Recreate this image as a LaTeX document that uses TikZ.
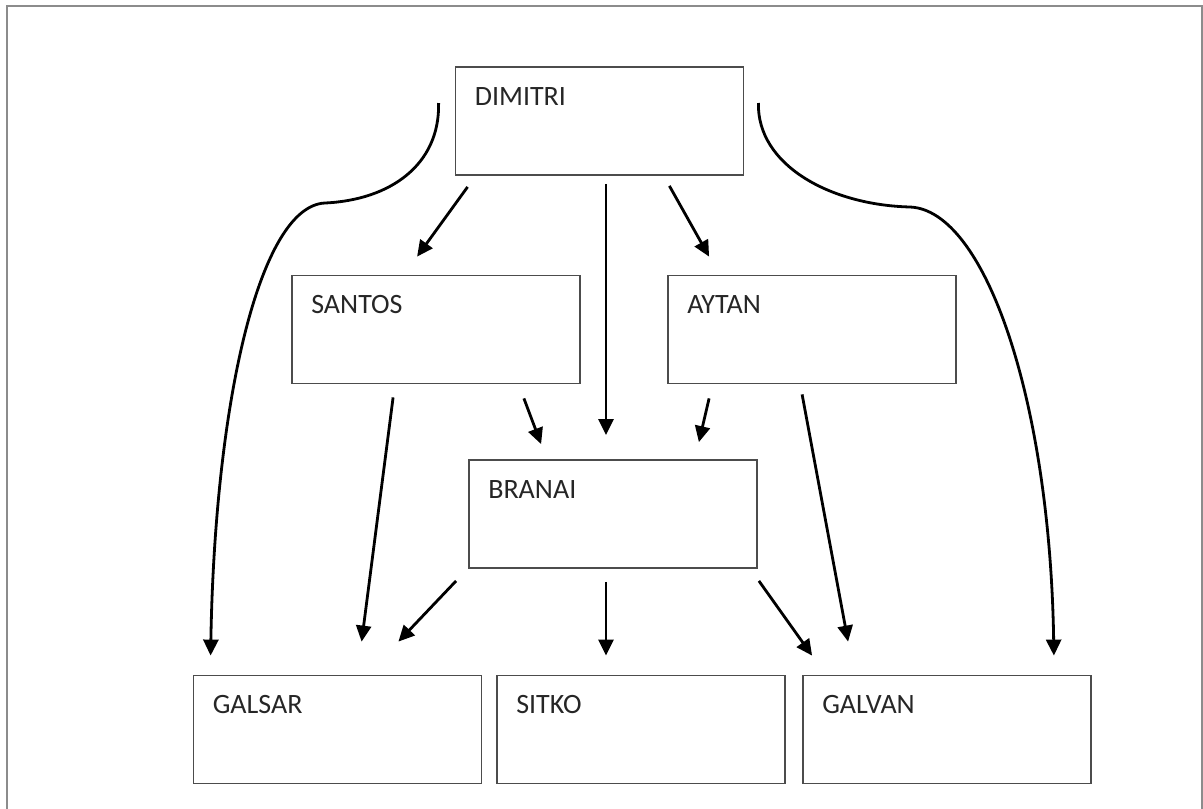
\documentclass[tikz,border=0pt]{standalone}
\usepackage{fontspec}
\setmainfont{Carlito}
\usetikzlibrary{arrows.meta,calc}
\begin{document}
\begin{tikzpicture}[x=1pt,y=-1pt,
    box/.style={draw=black!70,line width=1.8pt,minimum width=288pt,minimum height=108pt,inner sep=0pt},
    boxtext/.style={anchor=west,inner sep=0pt,text=black!85,font=\fontsize{28}{28}\selectfont},
    arr/.style={-{Triangle[length=16pt,width=15pt]},line width=2.8pt},
    frame/.style={draw=black!45,line width=2pt}]
      \useasboundingbox (0,0) rectangle (1203,809);
      \draw[frame] (7,812) |- (1202,6) -- (1202,812);
      \node[box] (dimitri) at (599.5,121) {};
      \node[box] (santos) at (436,329.5) {};
      \node[box] (aytan) at (812,329.5) {};
      \node[box] (branai) at (613,514) {};
      \node[box] (galsar) at (337.5,729.5) {};
      \node[box] (sitko) at (641,729.5) {};
      \node[box] (galvan) at (947,729.5) {};
      \node[boxtext] (dimitri-t) at ($(dimitri.north west)+(20,30)$) {DIMITRI};
      \node[boxtext] (santos-t) at ($(santos.north west)+(20,30)$) {SANTOS};
      \node[boxtext] (aytan-t) at ($(aytan.north west)+(20,30)$) {AYTAN};
      \node[boxtext] (branai-t) at ($(branai.north west)+(20,30)$) {BRANAI};
      \node[boxtext] (galsar-t) at ($(galsar.north west)+(20,30)$) {GALSAR};
      \node[boxtext] (sitko-t) at ($(sitko.north west)+(20,30)$) {SITKO};
      \node[boxtext] (galvan-t) at ($(galvan.north west)+(20,30)$) {GALVAN};
      \coordinate (lbend) at (325,203);
      \coordinate (rbend) at (910,207);
      \draw[arr] ($(dimitri.south west)+(13,11)$) -- ($(santos.north west)+(126,-18)$);
      \draw[arr] ($(dimitri.south)+(6.5,8)$) -- ($(branai.north)+(-7,-24)$);
      \draw[arr] ($(dimitri.south east)+(-75,10)$) -- ($(aytan.north west)+(42,-18)$);
      \draw[arr] ($(dimitri.west)+(-16,-18)$) .. controls (440,165) and (390,200) .. (lbend)
        .. controls (260,206) and (215,400) .. ($(galsar.north west)+(18,-19)$);
      \draw[arr] ($(dimitri.east)+(14,-18)$) .. controls (757,165) and (830,205) .. (rbend)
        .. controls (985,210) and (1050,400) .. ($(galvan.north east)+(-38,-19)$);
      \draw[arr] ($(santos.south west)+(102,13)$) -- ($(galsar.north west)+(169,-33)$);
      \draw[arr] ($(santos.south east)+(-57,14)$) -- ($(branai.north west)+(73,-15)$);
      \draw[arr] ($(aytan.south west)+(42,14)$) -- ($(branai.north east)+(-59,-17)$);
      \draw[arr] ($(aytan.south west)+(135,10)$) -- ($(galvan.north west)+(46,-33)$);
      \draw[arr] ($(branai.south west)+(-12,12)$) -- ($(galsar.north east)+(-84,-33)$);
      \draw[arr] ($(branai.south)+(-7,13)$) -- ($(sitko.north)+(-35,-19)$);
      \draw[arr] ($(branai.south east)+(1,12)$) -- ($(galvan.north west)+(10,-19)$);
    \end{tikzpicture}
\end{document}
